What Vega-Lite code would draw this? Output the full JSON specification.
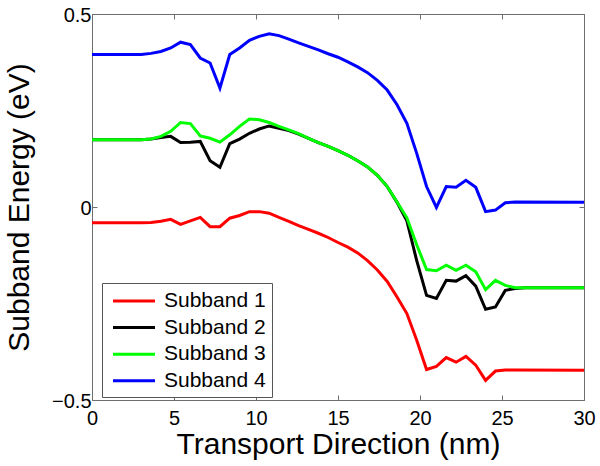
{
  "$schema": "https://vega.github.io/schema/vega-lite/v6.json",
  "width": 492,
  "height": 386,
  "autosize": {"type": "none"},
  "padding": {"left": 92, "top": 14, "right": 16, "bottom": 66},
  "background": "white",
  "config": {
    "font": "Liberation Sans",
    "view": {"stroke": "#6e6e6e", "strokeWidth": 1}
  },
  "datasets": {
    "d": [
      {"x":0,"s":"Subband 1","e":-0.041},{"x":3.0,"s":"Subband 1","e":-0.041},{"x":3.6,"s":"Subband 1","e":-0.040},{"x":4.2,"s":"Subband 1","e":-0.037},{"x":4.8,"s":"Subband 1","e":-0.032},{"x":5.4,"s":"Subband 1","e":-0.045},{"x":6.0,"s":"Subband 1","e":-0.036},{"x":6.6,"s":"Subband 1","e":-0.027},{"x":7.2,"s":"Subband 1","e":-0.051},{"x":7.8,"s":"Subband 1","e":-0.051},{"x":8.4,"s":"Subband 1","e":-0.029},{"x":9.0,"s":"Subband 1","e":-0.022},{"x":9.6,"s":"Subband 1","e":-0.012},{"x":10.2,"s":"Subband 1","e":-0.012},{"x":10.8,"s":"Subband 1","e":-0.016},{"x":11.4,"s":"Subband 1","e":-0.027},{"x":12.0,"s":"Subband 1","e":-0.037},{"x":12.6,"s":"Subband 1","e":-0.048},{"x":13.2,"s":"Subband 1","e":-0.058},{"x":13.8,"s":"Subband 1","e":-0.068},{"x":14.4,"s":"Subband 1","e":-0.079},{"x":15.0,"s":"Subband 1","e":-0.092},{"x":15.6,"s":"Subband 1","e":-0.104},{"x":16.2,"s":"Subband 1","e":-0.119},{"x":16.8,"s":"Subband 1","e":-0.139},{"x":17.4,"s":"Subband 1","e":-0.163},{"x":18.0,"s":"Subband 1","e":-0.193},{"x":18.6,"s":"Subband 1","e":-0.233},{"x":19.2,"s":"Subband 1","e":-0.276},{"x":19.8,"s":"Subband 1","e":-0.345},{"x":20.4,"s":"Subband 1","e":-0.421},{"x":21.0,"s":"Subband 1","e":-0.413},{"x":21.6,"s":"Subband 1","e":-0.390},{"x":22.2,"s":"Subband 1","e":-0.402},{"x":22.8,"s":"Subband 1","e":-0.387},{"x":23.4,"s":"Subband 1","e":-0.410},{"x":24.0,"s":"Subband 1","e":-0.449},{"x":24.6,"s":"Subband 1","e":-0.425},{"x":25.2,"s":"Subband 1","e":-0.422},{"x":25.8,"s":"Subband 1","e":-0.422},{"x":30,"s":"Subband 1","e":-0.423},
      {"x":0,"s":"Subband 2","e":0.174},{"x":3.0,"s":"Subband 2","e":0.174},{"x":3.6,"s":"Subband 2","e":0.176},{"x":4.2,"s":"Subband 2","e":0.180},{"x":4.8,"s":"Subband 2","e":0.183},{"x":5.4,"s":"Subband 2","e":0.167},{"x":6.0,"s":"Subband 2","e":0.168},{"x":6.6,"s":"Subband 2","e":0.170},{"x":7.2,"s":"Subband 2","e":0.120},{"x":7.8,"s":"Subband 2","e":0.103},{"x":8.4,"s":"Subband 2","e":0.164},{"x":9.0,"s":"Subband 2","e":0.176},{"x":9.6,"s":"Subband 2","e":0.191},{"x":10.2,"s":"Subband 2","e":0.202},{"x":10.8,"s":"Subband 2","e":0.210},{"x":11.4,"s":"Subband 2","e":0.204},{"x":12.0,"s":"Subband 2","e":0.198},{"x":12.6,"s":"Subband 2","e":0.189},{"x":13.2,"s":"Subband 2","e":0.178},{"x":13.8,"s":"Subband 2","e":0.167},{"x":14.4,"s":"Subband 2","e":0.157},{"x":15.0,"s":"Subband 2","e":0.146},{"x":15.6,"s":"Subband 2","e":0.134},{"x":16.2,"s":"Subband 2","e":0.120},{"x":16.8,"s":"Subband 2","e":0.104},{"x":17.4,"s":"Subband 2","e":0.082},{"x":18.0,"s":"Subband 2","e":0.053},{"x":18.6,"s":"Subband 2","e":0.012},{"x":19.2,"s":"Subband 2","e":-0.036},{"x":19.8,"s":"Subband 2","e":-0.139},{"x":20.4,"s":"Subband 2","e":-0.229},{"x":21.0,"s":"Subband 2","e":-0.237},{"x":21.6,"s":"Subband 2","e":-0.190},{"x":22.2,"s":"Subband 2","e":-0.192},{"x":22.8,"s":"Subband 2","e":-0.178},{"x":23.4,"s":"Subband 2","e":-0.205},{"x":24.0,"s":"Subband 2","e":-0.265},{"x":24.6,"s":"Subband 2","e":-0.259},{"x":25.2,"s":"Subband 2","e":-0.216},{"x":25.8,"s":"Subband 2","e":-0.211},{"x":26.4,"s":"Subband 2","e":-0.209},{"x":30,"s":"Subband 2","e":-0.209},
      {"x":0,"s":"Subband 3","e":0.174},{"x":3.0,"s":"Subband 3","e":0.174},{"x":3.6,"s":"Subband 3","e":0.176},{"x":4.2,"s":"Subband 3","e":0.183},{"x":4.8,"s":"Subband 3","e":0.196},{"x":5.4,"s":"Subband 3","e":0.219},{"x":6.0,"s":"Subband 3","e":0.216},{"x":6.6,"s":"Subband 3","e":0.184},{"x":7.2,"s":"Subband 3","e":0.178},{"x":7.8,"s":"Subband 3","e":0.168},{"x":8.4,"s":"Subband 3","e":0.187},{"x":9.0,"s":"Subband 3","e":0.209},{"x":9.6,"s":"Subband 3","e":0.228},{"x":10.2,"s":"Subband 3","e":0.226},{"x":10.8,"s":"Subband 3","e":0.219},{"x":11.4,"s":"Subband 3","e":0.209},{"x":12.0,"s":"Subband 3","e":0.200},{"x":12.6,"s":"Subband 3","e":0.190},{"x":13.2,"s":"Subband 3","e":0.178},{"x":13.8,"s":"Subband 3","e":0.167},{"x":14.4,"s":"Subband 3","e":0.157},{"x":15.0,"s":"Subband 3","e":0.146},{"x":15.6,"s":"Subband 3","e":0.134},{"x":16.2,"s":"Subband 3","e":0.120},{"x":16.8,"s":"Subband 3","e":0.104},{"x":17.4,"s":"Subband 3","e":0.082},{"x":18.0,"s":"Subband 3","e":0.053},{"x":18.6,"s":"Subband 3","e":0.013},{"x":19.2,"s":"Subband 3","e":-0.028},{"x":19.8,"s":"Subband 3","e":-0.098},{"x":20.4,"s":"Subband 3","e":-0.162},{"x":21.0,"s":"Subband 3","e":-0.165},{"x":21.6,"s":"Subband 3","e":-0.151},{"x":22.2,"s":"Subband 3","e":-0.164},{"x":22.8,"s":"Subband 3","e":-0.151},{"x":23.4,"s":"Subband 3","e":-0.168},{"x":24.0,"s":"Subband 3","e":-0.214},{"x":24.6,"s":"Subband 3","e":-0.190},{"x":25.2,"s":"Subband 3","e":-0.203},{"x":25.8,"s":"Subband 3","e":-0.209},{"x":30,"s":"Subband 3","e":-0.209},
      {"x":0,"s":"Subband 4","e":0.395},{"x":3.0,"s":"Subband 4","e":0.395},{"x":3.6,"s":"Subband 4","e":0.398},{"x":4.2,"s":"Subband 4","e":0.403},{"x":4.8,"s":"Subband 4","e":0.412},{"x":5.4,"s":"Subband 4","e":0.427},{"x":6.0,"s":"Subband 4","e":0.421},{"x":6.6,"s":"Subband 4","e":0.386},{"x":7.2,"s":"Subband 4","e":0.373},{"x":7.8,"s":"Subband 4","e":0.308},{"x":8.4,"s":"Subband 4","e":0.395},{"x":9.0,"s":"Subband 4","e":0.412},{"x":9.6,"s":"Subband 4","e":0.432},{"x":10.2,"s":"Subband 4","e":0.442},{"x":10.8,"s":"Subband 4","e":0.449},{"x":11.4,"s":"Subband 4","e":0.444},{"x":12.0,"s":"Subband 4","e":0.435},{"x":12.6,"s":"Subband 4","e":0.425},{"x":13.2,"s":"Subband 4","e":0.416},{"x":13.8,"s":"Subband 4","e":0.407},{"x":14.4,"s":"Subband 4","e":0.397},{"x":15.0,"s":"Subband 4","e":0.388},{"x":15.6,"s":"Subband 4","e":0.376},{"x":16.2,"s":"Subband 4","e":0.363},{"x":16.8,"s":"Subband 4","e":0.348},{"x":17.4,"s":"Subband 4","e":0.328},{"x":18.0,"s":"Subband 4","e":0.303},{"x":18.6,"s":"Subband 4","e":0.265},{"x":19.2,"s":"Subband 4","e":0.217},{"x":19.8,"s":"Subband 4","e":0.139},{"x":20.4,"s":"Subband 4","e":0.053},{"x":21.0,"s":"Subband 4","e":-0.001},{"x":21.6,"s":"Subband 4","e":0.053},{"x":22.2,"s":"Subband 4","e":0.051},{"x":22.8,"s":"Subband 4","e":0.069},{"x":23.4,"s":"Subband 4","e":0.051},{"x":24.0,"s":"Subband 4","e":-0.012},{"x":24.6,"s":"Subband 4","e":-0.008},{"x":25.2,"s":"Subband 4","e":0.011},{"x":25.8,"s":"Subband 4","e":0.013},{"x":30,"s":"Subband 4","e":0.012}
    ]
  },
  "data": {"name": "d"},
  "resolve": {"axis": {"x": "independent", "y": "independent"}},
  "layer": [
    {
      "mark": {"type": "point", "opacity": 0},
      "encoding": {
        "x": {
          "field": "x", "type": "quantitative",
          "scale": {"domain": [0, 30], "nice": false},
          "axis": {
            "orient": "top", "title": null, "labels": false, "domain": false,
            "values": [0, 5, 10, 15, 20, 25, 30], "grid": false,
            "tickColor": "#6e6e6e", "tickSize": -5
          }
        },
        "y": {
          "field": "e", "type": "quantitative",
          "scale": {"domain": [-0.5, 0.5], "nice": false},
          "axis": {
            "orient": "right", "title": null, "labels": false, "domain": false,
            "values": [-0.5, 0, 0.5], "grid": false,
            "tickColor": "#6e6e6e", "tickSize": -5
          }
        }
      }
    },
    {
      "mark": {"type": "line", "strokeWidth": 3},
      "encoding": {
        "x": {
          "field": "x", "type": "quantitative",
          "scale": {"domain": [0, 30], "nice": false},
          "axis": {
            "title": "Transport Direction (nm)",
            "values": [0, 5, 10, 15, 20, 25, 30],
            "grid": false,
            "labelFlush": false,
            "domainColor": "#6e6e6e",
            "tickColor": "#6e6e6e",
            "tickSize": -5,
            "labelFontSize": 20,
            "labelColor": "black",
            "labelPadding": 13,
            "titleFontSize": 30,
            "titleFontWeight": "normal",
            "titleColor": "black",
            "titlePadding": 1
          }
        },
        "y": {
          "field": "e", "type": "quantitative",
          "scale": {"domain": [-0.5, 0.5], "nice": false},
          "axis": {
            "title": "Subband Energy (eV)",
            "values": [-0.5, 0, 0.5],
            "format": "~g",
            "grid": false,
            "labelFlush": false,
            "labelOffset": 1,
            "domainColor": "#6e6e6e",
            "tickColor": "#6e6e6e",
            "tickSize": -5,
            "labelFontSize": 20,
            "labelColor": "black",
            "labelPadding": 6,
            "titleFontSize": 30,
            "titleFontWeight": "normal",
            "titleColor": "black",
            "titlePadding": 17
          }
        },
        "color": {
          "field": "s", "type": "nominal",
          "scale": {
            "domain": ["Subband 1", "Subband 2", "Subband 3", "Subband 4"],
            "range": ["#ff0000", "#000000", "#00ff00", "#0000ff"]
          },
          "legend": {
            "title": null,
            "orient": "none",
            "legendX": 10,
            "legendY": 269,
            "symbolType": "M-2,0H2",
            "symbolSize": 441,
            "symbolStrokeWidth": 3,
            "symbolOffset": 14,
            "labelFontSize": 21,
            "labelColor": "black",
            "labelOffset": 18,
            "rowPadding": 4.6,
            "padding": 6,
            "strokeColor": "#555555",
            "fillColor": "white"
          }
        }
      }
    }
  ]
}
